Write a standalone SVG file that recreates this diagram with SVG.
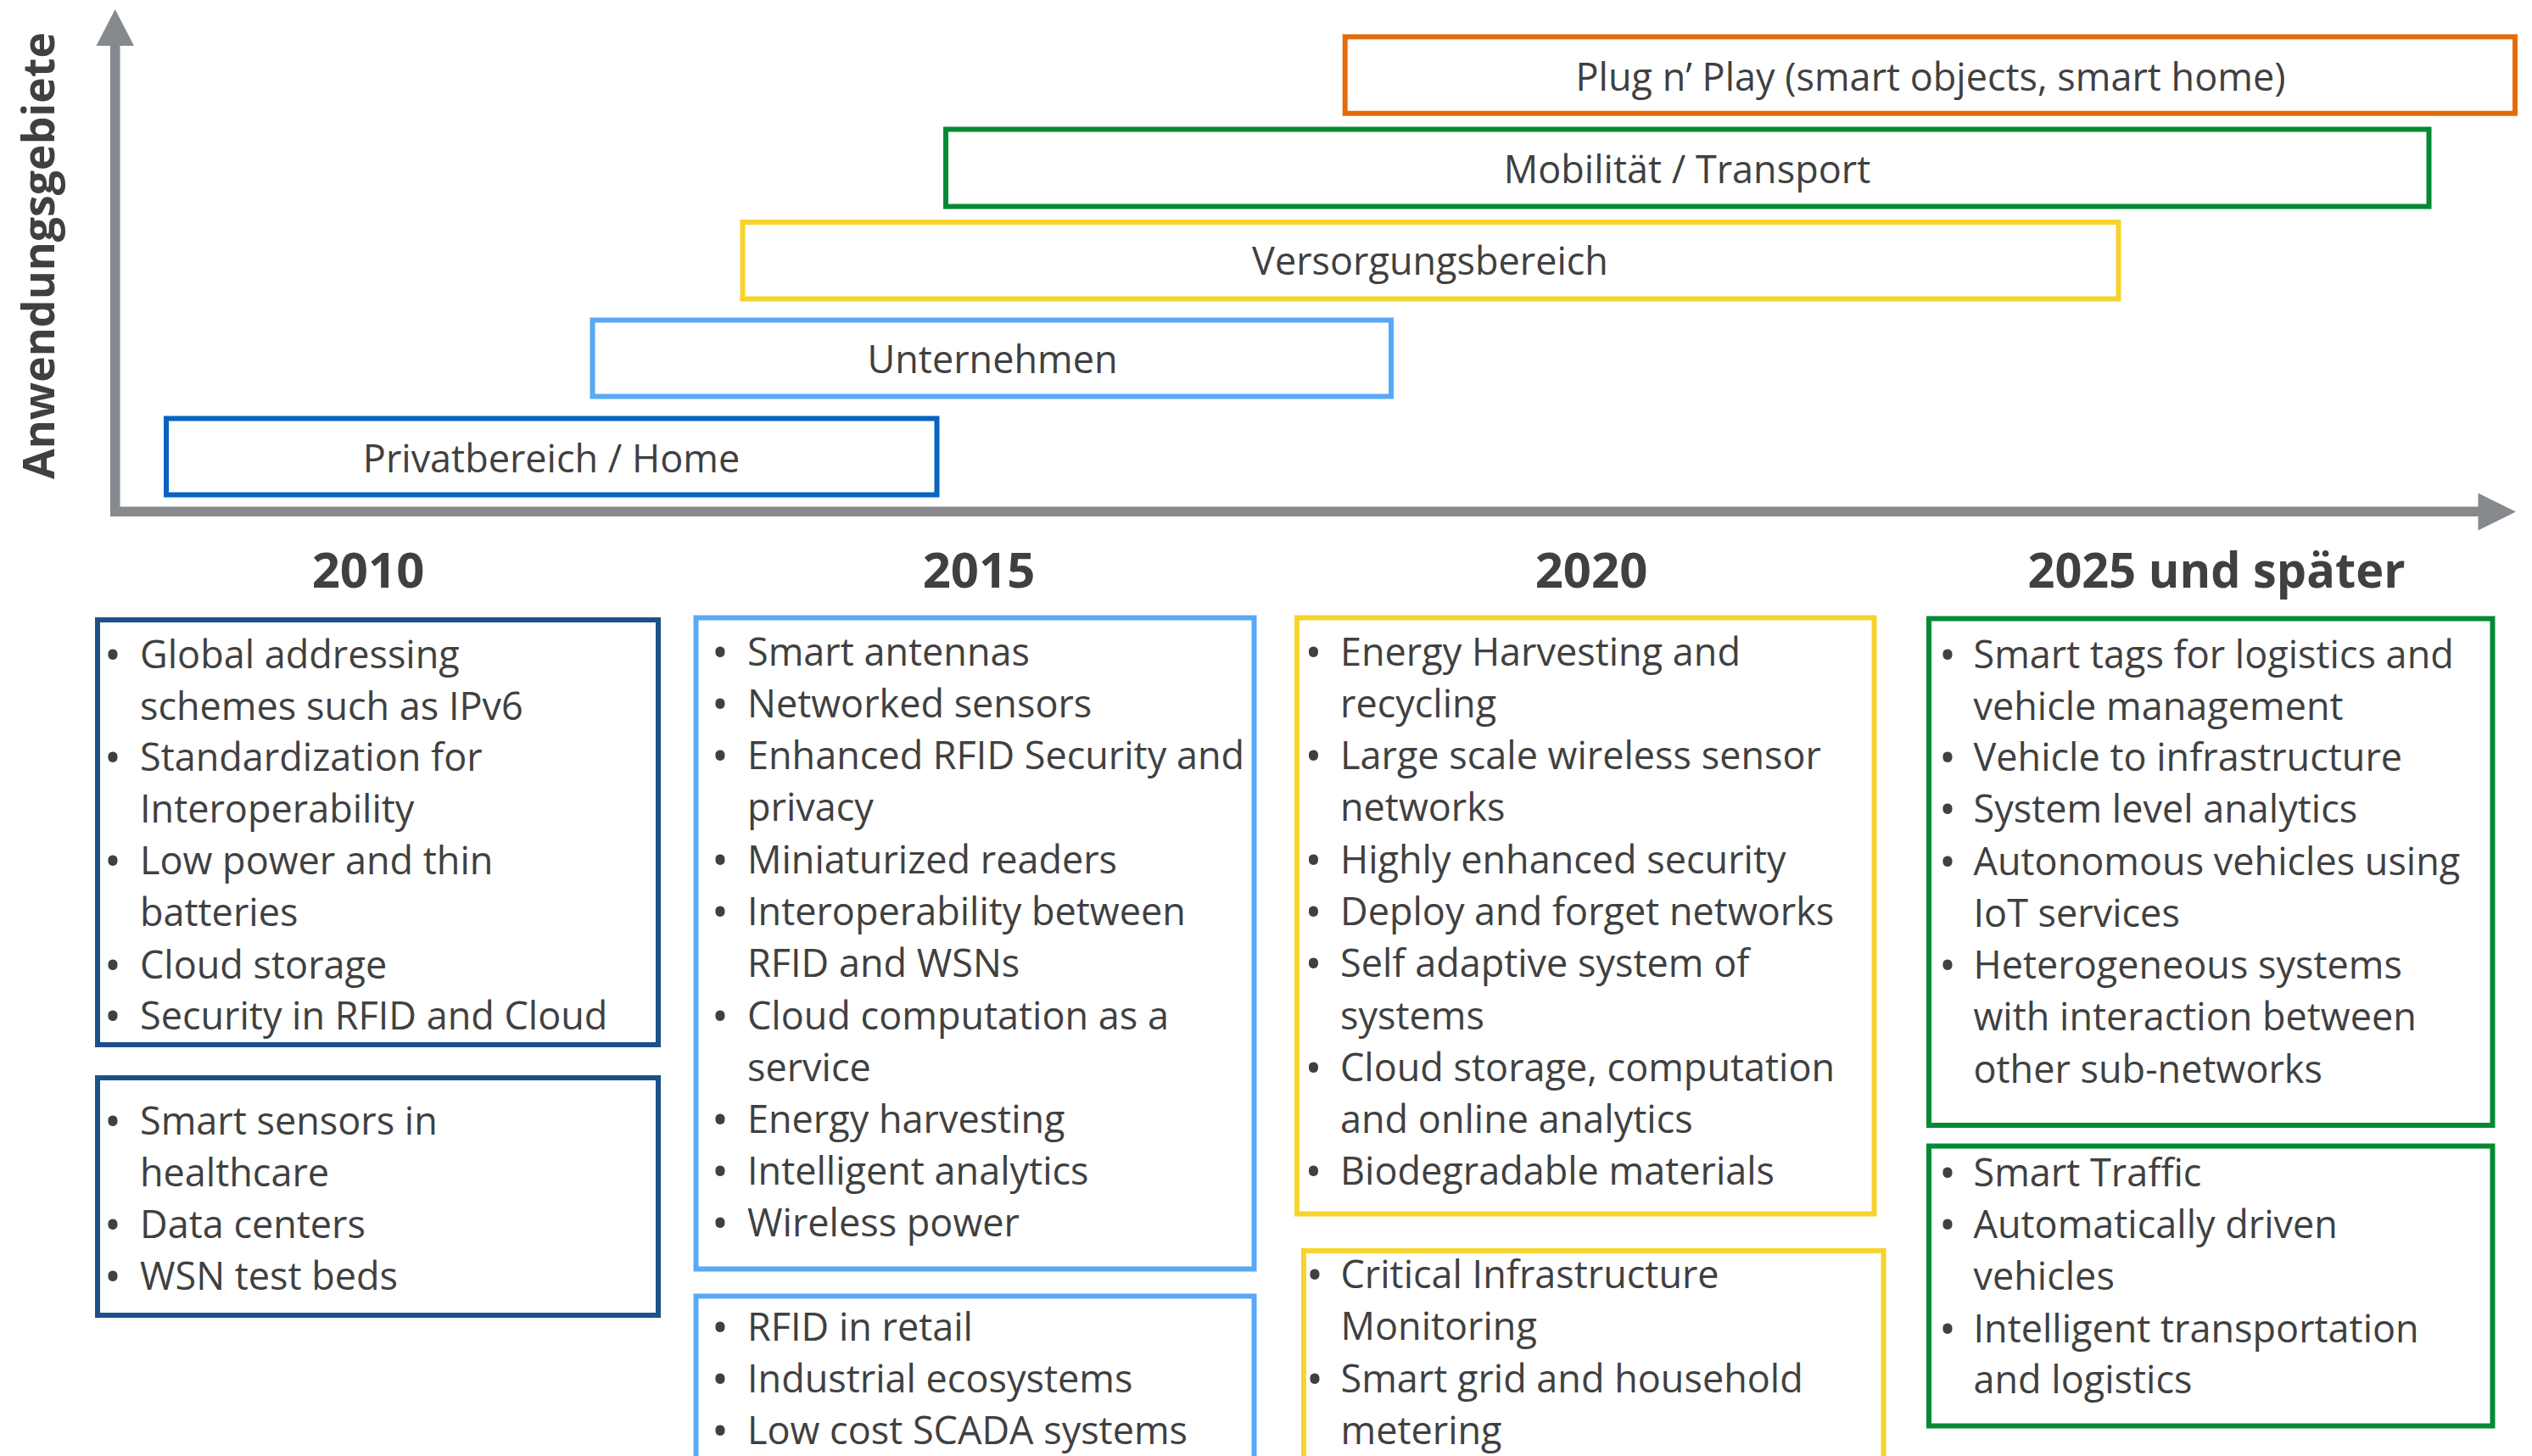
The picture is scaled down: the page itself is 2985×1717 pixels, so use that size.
<svg xmlns="http://www.w3.org/2000/svg" width="2985" height="1717" viewBox="0 0 2985 1717">
<style>
text{font-family:"Open Sans","Liberation Sans",sans-serif;fill:#404040;}
.t{font-size:45px;}
.b{font-size:53px;text-anchor:middle;}
.c{text-anchor:middle;}
.yr{font-size:58px;font-weight:bold;text-anchor:middle;}
.bx{fill:#ffffff;stroke-width:6;}
.or{stroke:#E36C0A;}
.gr{stroke:#038A33;}
.ye{stroke:#F6D32D;}
.lb{stroke:#58A9F6;}
.db{stroke:#0764C0;}
.nv{stroke:#1D5089;}
.ax{fill:#86898D;}
</style>
<rect width="2985" height="1717" fill="#ffffff"/>
<g id="connectors">
<g id="y-axis">
<rect class="ax" x="130" y="50" width="11.5" height="559"/>
<polygon class="ax" points="135.7,11 113.5,54 158,54"/>
</g>
<g id="x-axis">
<rect class="ax" x="130" y="597.5" width="2795" height="11.5"/>
<polygon class="ax" points="2966,603.5 2921.5,581.5 2921.5,625.5"/>
</g>
</g>
<text id="y-label" transform="translate(64,565) rotate(-90)" font-size="52" font-weight="bold" textLength="527" lengthAdjust="spacingAndGlyphs">Anwendungsgebiete</text>

<g id="bar-plug">
<rect class="bx or" x="1585.7" y="43.4" width="1379.3" height="90.3"/>
<text class="t c" x="2276" y="107">Plug n’ Play (smart objects, smart home)</text>
</g>
<g id="bar-mobil">
<rect class="bx gr" x="1115" y="152.5" width="1748.5" height="91"/>
<text class="t c" x="1989" y="216">Mobilität / Transport</text>
</g>
<g id="bar-versorgung">
<rect class="bx ye" x="875.5" y="262" width="1622" height="90.5"/>
<text class="t c" x="1686" y="324">Versorgungsbereich</text>
</g>
<g id="bar-unternehmen">
<rect class="bx lb" x="698.5" y="377.5" width="941.5" height="90"/>
<text class="t c" x="1170" y="440">Unternehmen</text>
</g>
<g id="bar-privat">
<rect class="bx db" x="196" y="493.5" width="908.5" height="90"/>
<text class="t c" x="650" y="557">Privatbereich / Home</text>
</g>

<g id="years">
<text class="yr" x="434" y="693">2010</text>
<text class="yr" x="1154" y="693">2015</text>
<text class="yr" x="1876" y="693">2020</text>
<text class="yr" x="2613" y="693" textLength="445" lengthAdjust="spacingAndGlyphs">2025 und später</text>
</g>

<g id="box-2010-a">
<rect class="bx nv" x="115" y="731" width="661" height="501"/>
<text class="b" x="133" y="791">•</text><text class="t" x="165" y="788">Global addressing</text>
<text class="t" x="165" y="849">schemes such as IPv6</text>
<text class="b" x="133" y="912">•</text><text class="t" x="165" y="909">Standardization for</text>
<text class="t" x="165" y="970">Interoperability</text>
<text class="b" x="133" y="1034">•</text><text class="t" x="165" y="1031">Low power and thin</text>
<text class="t" x="165" y="1092">batteries</text>
<text class="b" x="133" y="1157">•</text><text class="t" x="165" y="1154">Cloud storage</text>
<text class="b" x="133" y="1217">•</text><text class="t" x="165" y="1214">Security in RFID and Cloud</text>
</g>
<g id="box-2010-b">
<rect class="bx nv" x="115" y="1271" width="661" height="280"/>
<text class="b" x="133" y="1341">•</text><text class="t" x="165" y="1338">Smart sensors in</text>
<text class="t" x="165" y="1399">healthcare</text>
<text class="b" x="133" y="1463">•</text><text class="t" x="165" y="1460">Data centers</text>
<text class="b" x="133" y="1524">•</text><text class="t" x="165" y="1521">WSN test beds</text>
</g>

<g id="box-2015-a">
<rect class="bx lb" x="820.5" y="728.5" width="658" height="768"/>
<text class="b" x="849" y="787.5">•</text><text class="t" x="881" y="784.5">Smart antennas</text>
<text class="b" x="849" y="848.5">•</text><text class="t" x="881" y="845.5">Networked sensors</text>
<text class="b" x="849" y="910">•</text><text class="t" x="881" y="907">Enhanced RFID Security and</text>
<text class="t" x="881" y="968">privacy</text>
<text class="b" x="849" y="1032.5">•</text><text class="t" x="881" y="1029.5">Miniaturized readers</text>
<text class="b" x="849" y="1093.5">•</text><text class="t" x="881" y="1090.5">Interoperability between</text>
<text class="t" x="881" y="1152">RFID and WSNs</text>
<text class="b" x="849" y="1216.5">•</text><text class="t" x="881" y="1213.5">Cloud computation as a</text>
<text class="t" x="881" y="1274.5">service</text>
<text class="b" x="849" y="1339">•</text><text class="t" x="881" y="1336">Energy harvesting</text>
<text class="b" x="849" y="1400">•</text><text class="t" x="881" y="1397">Intelligent analytics</text>
<text class="b" x="849" y="1461">•</text><text class="t" x="881" y="1458">Wireless power</text>
</g>
<g id="box-2015-b">
<rect class="bx lb" x="820.5" y="1528.5" width="658" height="260"/>
<text class="b" x="849" y="1584">•</text><text class="t" x="881" y="1581">RFID in retail</text>
<text class="b" x="849" y="1645">•</text><text class="t" x="881" y="1642">Industrial ecosystems</text>
<text class="b" x="849" y="1706">•</text><text class="t" x="881" y="1703">Low cost SCADA systems</text>
</g>

<g id="box-2020-a">
<rect class="bx ye" x="1529" y="728.5" width="680.5" height="703"/>
<text class="b" x="1548.5" y="787.5">•</text><text class="t" x="1580" y="784.5">Energy Harvesting and</text>
<text class="t" x="1580" y="845.5">recycling</text>
<text class="b" x="1548.5" y="910">•</text><text class="t" x="1580" y="907">Large scale wireless sensor</text>
<text class="t" x="1580" y="968">networks</text>
<text class="b" x="1548.5" y="1032.5">•</text><text class="t" x="1580" y="1029.5">Highly enhanced security</text>
<text class="b" x="1548.5" y="1093.5">•</text><text class="t" x="1580" y="1090.5">Deploy and forget networks</text>
<text class="b" x="1548.5" y="1155">•</text><text class="t" x="1580" y="1152">Self adaptive system of</text>
<text class="t" x="1580" y="1213.5">systems</text>
<text class="b" x="1548.5" y="1277.5">•</text><text class="t" x="1580" y="1274.5">Cloud storage, computation</text>
<text class="t" x="1580" y="1336">and online analytics</text>
<text class="b" x="1548.5" y="1400">•</text><text class="t" x="1580" y="1397">Biodegradable materials</text>
</g>
<g id="box-2020-b">
<rect class="bx ye" x="1537" y="1475" width="683.5" height="300"/>
<text class="b" x="1550" y="1522">•</text><text class="t" x="1580.5" y="1519">Critical Infrastructure</text>
<text class="t" x="1580.5" y="1580">Monitoring</text>
<text class="b" x="1550" y="1645">•</text><text class="t" x="1580.5" y="1642">Smart grid and household</text>
<text class="t" x="1580.5" y="1703">metering</text>
</g>

<g id="box-2025-a">
<rect class="bx gr" x="2274" y="729.5" width="664.5" height="597.5"/>
<text class="b" x="2296" y="791">•</text><text class="t" x="2326.5" y="788">Smart tags for logistics and</text>
<text class="t" x="2326.5" y="849">vehicle management</text>
<text class="b" x="2296" y="911.5">•</text><text class="t" x="2326.5" y="908.5">Vehicle to infrastructure</text>
<text class="b" x="2296" y="973">•</text><text class="t" x="2326.5" y="970">System level analytics</text>
<text class="b" x="2296" y="1034.5">•</text><text class="t" x="2326.5" y="1031.5">Autonomous vehicles using</text>
<text class="t" x="2326.5" y="1092.5">IoT services</text>
<text class="b" x="2296" y="1157">•</text><text class="t" x="2326.5" y="1154">Heterogeneous systems</text>
<text class="t" x="2326.5" y="1215">with interaction between</text>
<text class="t" x="2326.5" y="1276.5">other sub-networks</text>
</g>
<g id="box-2025-b">
<rect class="bx gr" x="2274" y="1351.5" width="664.5" height="330"/>
<text class="b" x="2296" y="1401.5">•</text><text class="t" x="2326.5" y="1398.5">Smart Traffic</text>
<text class="b" x="2296" y="1463">•</text><text class="t" x="2326.5" y="1460">Automatically driven</text>
<text class="t" x="2326.5" y="1521">vehicles</text>
<text class="b" x="2296" y="1585.5">•</text><text class="t" x="2326.5" y="1582.5">Intelligent transportation</text>
<text class="t" x="2326.5" y="1643">and logistics</text>
</g>
</svg>
